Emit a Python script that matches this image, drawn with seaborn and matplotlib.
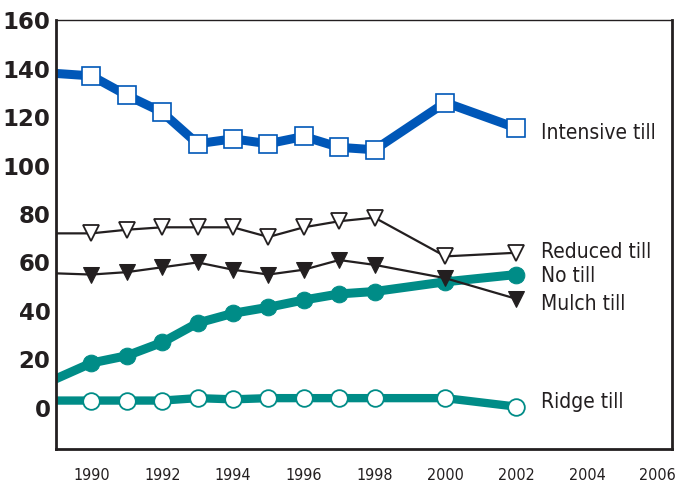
import matplotlib
matplotlib.use('Agg')
import matplotlib.pyplot as plt
import seaborn as sns

# Years; 1989 is the left-edge start of each line (drawn without a marker)
years = [1989, 1990, 1991, 1992, 1993, 1994, 1995, 1996, 1997, 1998, 2000, 2002]

intensive_till = [138, 137, 129, 122, 109, 111, 109, 112, 107.5, 106.5, 126, 115.5]
reduced_till = [72, 72, 73.5, 74.5, 74.5, 74.5, 70.5, 74.5, 77, 78.5, 62.5, 64]
mulch_till = [55.5, 55, 56, 58, 60, 57, 55, 57, 61, 59, 53.5, 45]
no_till = [12, 18.5, 21.5, 27, 35, 39, 41.5, 44.5, 47, 48, 52, 55]
ridge_till = [3, 3, 3, 3, 4, 3.5, 4, 4, 4, 4, 4, 0.5]

series_labels = ['Intensive till', 'Reduced till', 'No till', 'Mulch till', 'Ridge till']
label_y = [113.5, 64.5, 54.5, 43, 2.5]

y_ticks = [0, 20, 40, 60, 80, 100, 120, 140, 160]
x_ticks = [1990, 1992, 1994, 1996, 1998, 2000, 2002, 2004, 2006]

BLUE = '#0057b8'
TEAL = '#008c87'
DARK = '#231f20'

sns.set_style('white')
plt.rcParams['font.family'] = ['DejaVu Sans']

fig = plt.figure(figsize=(6.78, 4.91), dpi=100)
ax = fig.add_axes([0.0826, 0.0855, 0.9084, 0.8735])

marks = list(range(1, len(years)))

sns.lineplot(x=years, y=intensive_till, ax=ax, color=BLUE, linewidth=6.5,
             marker='s', markersize=13, markerfacecolor='white',
             markeredgecolor=BLUE, markeredgewidth=1.2, markevery=marks)
sns.lineplot(x=years, y=reduced_till, ax=ax, color=DARK, linewidth=1.6,
             marker='v', markersize=12, markerfacecolor='white',
             markeredgecolor=DARK, markeredgewidth=1.3, markevery=marks)
sns.lineplot(x=years, y=no_till, ax=ax, color=TEAL, linewidth=6.5,
             marker='o', markersize=12, markerfacecolor=TEAL,
             markeredgecolor=TEAL, markevery=marks)
# mulch till sits on top of no till where they cross
sns.lineplot(x=years, y=mulch_till, ax=ax, color=DARK, linewidth=1.6,
             marker='v', markersize=12, markerfacecolor=DARK,
             markeredgecolor=DARK, markevery=marks)
sns.lineplot(x=years, y=ridge_till, ax=ax, color=TEAL, linewidth=6,
             marker='o', markersize=12, markerfacecolor='white',
             markeredgecolor=TEAL, markeredgewidth=1.3, markevery=marks)

for name, ly in zip(series_labels, label_y):
    ax.text(2002.7, ly, name, va='center', ha='left', fontsize=15,
            fontstretch='condensed', color=DARK)

ax.set_xlim(1989, 2006.4)
ax.set_ylim(-17, 160)
ax.set_yticks(y_ticks)
ax.set_xticks(x_ticks)
ax.set_yticklabels([str(v) for v in y_ticks], fontsize=16.5, fontweight='bold', color=DARK)
ax.set_xticklabels([str(v) for v in x_ticks], fontsize=11.5,
                   fontstretch='condensed', color=DARK)
ax.tick_params(axis='y', direction='out', length=3, width=1.2, color=DARK, pad=1)
ax.tick_params(axis='x', direction='out', length=8, width=1.2, color=DARK, pad=6)

for side in ['left', 'bottom', 'right']:
    ax.spines[side].set_linewidth(2)
    ax.spines[side].set_color(DARK)
ax.spines['top'].set_linewidth(1)
ax.spines['top'].set_color(DARK)
ax.set_xlabel('')
ax.set_ylabel('')
ax.grid(False)

fig.savefig('out.png', dpi=100, facecolor='white')
plt.close(fig)
